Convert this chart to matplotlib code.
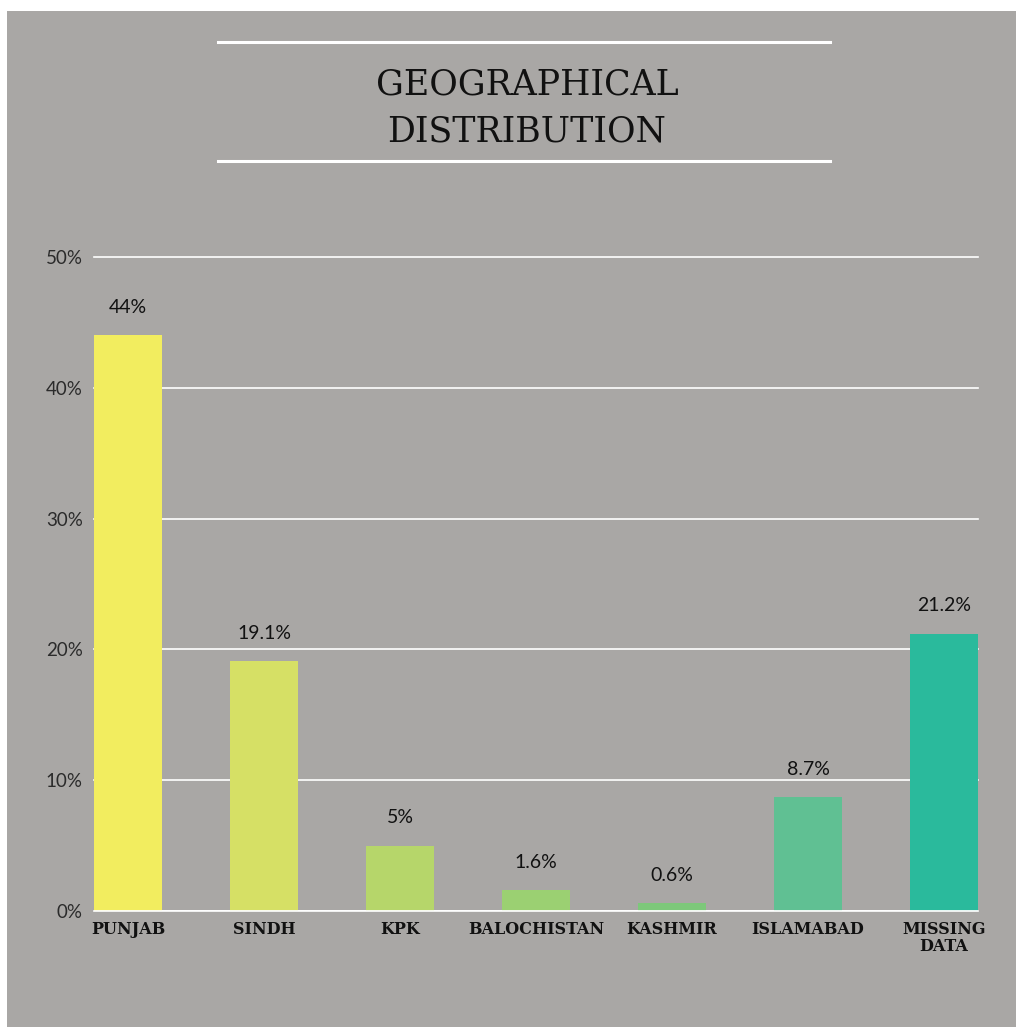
import matplotlib
matplotlib.use("Agg")
import matplotlib.pyplot as plt
from matplotlib.patches import Rectangle
from matplotlib.lines import Line2D

# data
regions = ["PUNJAB", "SINDH", "KPK", "BALOCHISTAN", "KASHMIR", "ISLAMABAD", "MISSING\nDATA"]
shares = [44.0, 19.1, 5.0, 1.6, 0.6, 8.7, 21.2]
share_labels = ["44%", "19.1%", "5%", "1.6%", "0.6%", "8.7%", "21.2%"]
yticks = [0, 10, 20, 30, 40, 50]
ytick_labels = ["0%", "10%", "20%", "30%", "40%", "50%"]
bar_colors = ["#f2ed5f", "#d6e065", "#b6d66a", "#9bd072", "#7dc87a", "#60c093", "#2aba9c"]

bg = "#a9a7a5"
W, H = 1016, 1027

fig = plt.figure(figsize=(W / 100, H / 100), dpi=100, facecolor="white")
fig.patches.append(Rectangle((7 / W, 0), (W - 7) / W, (H - 11) / H,
                             transform=fig.transFigure, facecolor=bg,
                             edgecolor="none", zorder=-10))

# title and its two rules
for yy in (42, 161):
    fig.lines.append(Line2D([218 / W, 830 / W], [1 - yy / H, 1 - yy / H],
                            transform=fig.transFigure, color="white", lw=2.2))
fig.text(527 / W, 1 - 108 / H, "GEOGRAPHICAL\nDISTRIBUTION", ha="center", va="center",
         fontsize=25, family="DejaVu Serif", color="#111111", linespacing=1.45)

ax = fig.add_axes([94 / W, 116 / H, 884 / W, 654 / H])
ax.set_facecolor("none")
x = list(range(len(regions)))
ax.bar(x, shares, width=0.5, color=bar_colors, zorder=3)
ax.set_xlim(-0.25, 6.25)
ax.set_ylim(0, 50)

ax.set_yticks(yticks)
ax.set_yticklabels(ytick_labels, family="Lato", fontsize=13.5, color="#2b2b2b")
ax.yaxis.grid(True, color="white", lw=1.2, zorder=1)
ax.set_axisbelow(True)
ax.axhline(0, color="white", lw=2, zorder=4)
ax.set_xticks(x)
ax.set_xticklabels(regions, family="DejaVu Serif", fontsize=11.5, fontweight="bold",
                   color="#111111", linespacing=1.0, va="top")
ax.tick_params(axis="y", length=0, pad=8)
ax.tick_params(axis="x", length=0, pad=7)
for s in ax.spines.values():
    s.set_visible(False)
for gl in ax.get_ygridlines():
    gl.set_clip_on(False)

for xi, v, lab in zip(x, shares, share_labels):
    ax.annotate(lab, (xi, v), xytext=(0, 16), textcoords="offset points",
                ha="center", va="baseline", family="Lato", fontsize=14, color="#111111")

fig.savefig("out.png", dpi=100, facecolor="white")
